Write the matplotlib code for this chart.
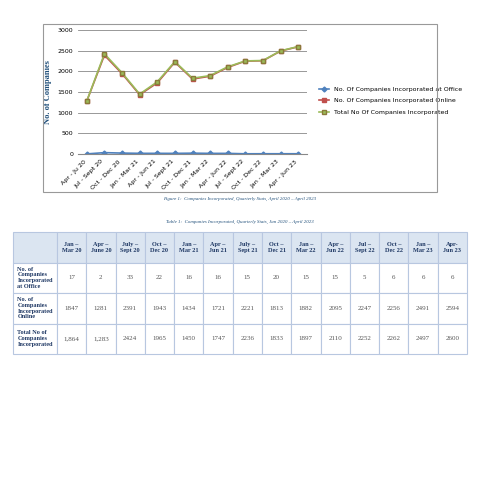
import matplotlib
matplotlib.use("Agg")
import matplotlib.pyplot as plt
from matplotlib.patches import Rectangle

chart_labels = ["Apr - Ju 20", "Jul - Sept 20", "Oct - Dec 20", "Jan - Mar 21", "Apr - Jun 21",
                "Jul - Sept 21", "Oct - Dec 21", "Jan - Mar 22", "Apr - Jun 22", "Jul - Sept 22",
                "Oct - Dec 22", "Jan - Mar 23", "Apr - Jun 23"]
office = [2, 33, 22, 16, 16, 15, 20, 15, 15, 5, 6, 6, 6]
online = [1281, 2391, 1943, 1434, 1721, 2221, 1813, 1882, 2095, 2247, 2256, 2491, 2594]
total = [1283, 2424, 1965, 1450, 1747, 2236, 1833, 1897, 2110, 2252, 2262, 2497, 2600]

table_cols = ["Jan –\nMar 20", "Apr –\nJune 20", "July –\nSept 20", "Oct –\nDec 20", "Jan –\nMar 21",
              "Apr –\nJun 21", "July –\nSept 21", "Oct –\nDec 21", "Jan –\nMar 22", "Apr –\nJun 22",
              "Jul –\nSept 22", "Oct –\nDec 22", "Jan –\nMar 23", "Apr-\nJun 23"]
table_rows = ["No. of\nCompanies\nIncorporated\nat Office", "No. of\nCompanies\nIncorporated\nOnline",
              "Total No of\nCompanies\nIncorporated"]
tab_office = ["17", "2", "33", "22", "16", "16", "15", "20", "15", "15", "5", "6", "6", "6"]
tab_online = ["1847", "1281", "2391", "1943", "1434", "1721", "2221", "1813", "1882", "2095", "2247", "2256", "2491", "2594"]
tab_total = ["1,864", "1,283", "2424", "1965", "1450", "1747", "2236", "1833", "1897", "2110", "2252", "2262", "2497", "2600"]

W = H = 480
fig = plt.figure(figsize=(4.8, 4.8), dpi=100)

# chart frame
fig.patches.append(Rectangle((43 / W, 1 - 192 / H), 394 / W, 168 / H, transform=fig.transFigure,
                             fill=False, edgecolor="#999999", lw=0.8))

ax = fig.add_axes([78 / W, 1 - 154 / H, 229 / W, 124 / H])
x = range(len(chart_labels))
ax.plot(x, office, color="#4f81bd", marker="D", ms=2.5, lw=1.2, label="No. Of Companies Incorporated at Office")
ax.plot(x, online, color="#c0504d", marker="s", ms=3, lw=1.2, label="No. Of Companies Incorporated Online")
ax.plot(x, total, color="#9bbb59", marker="s", ms=3.5, lw=1.2, mec="#8a7a3a", label="Total No Of Companies Incorporated")
ax.set_ylim(0, 3000)
ax.set_xlim(-0.5, len(chart_labels) - 0.5)
ax.set_yticks(range(0, 3001, 500))
ax.set_xticks(list(x))
ax.set_xticklabels(chart_labels, rotation=45, ha="right", fontsize=4.5)
ax.tick_params(axis="y", labelsize=4.5, length=0)
ax.tick_params(axis="x", length=0)
ax.yaxis.grid(True, color="#888888", lw=0.6)
for s in ["top", "right", "left"]:
    ax.spines[s].set_visible(False)
ax.spines["bottom"].set_color("#888888")
ax.set_ylabel("No. of Companies", fontsize=6, color="#1f4e79", family="Liberation Serif", fontweight="bold")
ax.legend(loc="center left", bbox_to_anchor=(1.03, 0.43), fontsize=4.5, frameon=False,
          handlelength=1.6, labelspacing=1.0)

fig.text(0.5, 1 - 200 / H, "Figure 1:  Companies Incorporated, Quarterly Stats, April 2020 – April 2023",
         ha="center", fontsize=3.5, style="italic", color="#1f4e79", family="Liberation Serif")
fig.text(0.5, 1 - 223 / H, "Table 1:  Companies Incorporated, Quarterly Stats, Jan 2020 – April 2023",
         ha="center", fontsize=3.5, style="italic", color="#1f4e79", family="Liberation Serif")

tax = fig.add_axes([13 / W, 1 - 354 / H, 454 / W, 122 / H])
tax.axis("off")
cells = [[""] + table_cols, [table_rows[0]] + tab_office, [table_rows[1]] + tab_online,
         [table_rows[2]] + tab_total]
tbl = tax.table(cellText=cells, loc="center", bbox=[0, 0, 1, 1],
                colWidths=[1.5] + [1] * len(table_cols), cellLoc="center")
tbl.auto_set_font_size(False)
for (r, c), cell in tbl.get_celld().items():
    cell.set_edgecolor("#b8c7e0")
    cell.set_linewidth(0.8)
    t = cell.get_text()
    t.set_fontsize(4.5 if (r == 0 or c == 0) else 5)
    t.set_family("Liberation Serif")
    t.set_color("#1f3864" if (r == 0 or c == 0) else "#555555")
    if r == 0:
        cell.set_facecolor("#dbe5f1")
        t.set_fontweight("bold")
    if c == 0:
        t.set_fontweight("bold")
        cell._loc = "left"
        t.set_ha("left")
fig.savefig("out.png", dpi=100, facecolor="white")
